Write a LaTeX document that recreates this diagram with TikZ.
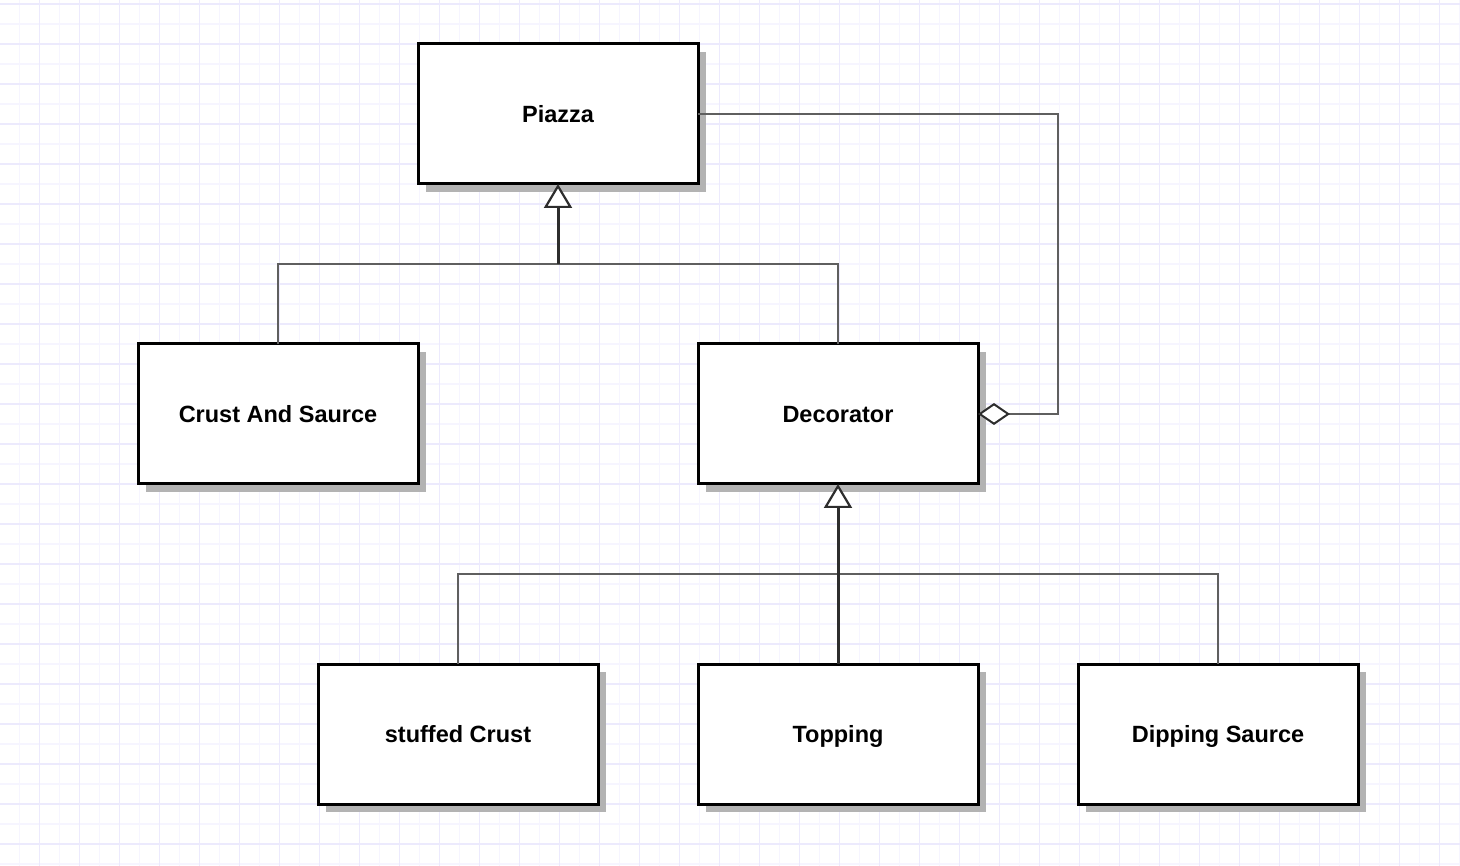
\documentclass[tikz,border=0pt]{standalone}
\usepackage{fontspec}
\setmainfont{Liberation Sans}
\usetikzlibrary{arrows.meta,shadows}
\definecolor{gridmin}{RGB}{246,245,255}
\definecolor{gridmaj}{RGB}{236,234,253}
\definecolor{shadowc}{RGB}{179,179,179}
\definecolor{linec}{RGB}{95,95,95}
\definecolor{stemc}{RGB}{45,45,45}
\begin{document}
\begin{tikzpicture}[x=1pt,y=-1pt,
  cls/.style={draw=black, line width=3pt, fill=white, minimum width=280pt,
    minimum height=140pt, inner sep=0pt, outer sep=0pt,
    text height=17pt, text depth=0pt,
    font=\fontsize{23.5}{28}\selectfont\bfseries,
    drop shadow={shadow xshift=8pt, shadow yshift=-8pt, fill=shadowc, opacity=1}},
  conn/.style={draw=linec, line width=2.3pt},
  stem/.style={draw=stemc, line width=3pt,
    -{Triangle[fill=white, length=24pt, width=28pt, line width=2.2pt]}},
  agg/.style={draw=linec, line width=2.3pt,
    {Diamond[fill=white, length=32pt, width=22pt, line width=2pt, color=stemc]}-}]
\useasboundingbox (0,0) rectangle (1460,866);
\fill[white] (0,0) rectangle (1460,866);
% grid
\foreach \x in {19.5,59.5,...,1459.5} \draw[gridmin, line width=1.2pt] (\x,0) -- (\x,866);
\foreach \y in {24,64,...,864} \draw[gridmin, line width=1.2pt] (0,\y) -- (1460,\y);
\foreach \x in {39.5,79.5,...,1459.5} \draw[gridmaj, line width=1.8pt] (\x,0) -- (\x,866);
\foreach \y in {4,44,...,864} \draw[gridmaj, line width=1.8pt] (0,\y) -- (1460,\y);
% classes
\node[cls] (pizza) at (558,114) {Piazza};
\node[cls] (crust) at (278,414) {Crust And Saurce};
\node[cls] (dec) at (838,414) {Decorator};
\node[cls] (stuffed) at (458,734) {stuffed Crust};
\node[cls] (topping) at (838,734) {Topping};
\node[cls] (dip) at (1218,734) {Dipping Saurce};
% junctions
\coordinate (j1) at (558,264);
\coordinate (j2) at (838,574);
\coordinate (a1) at (1058,114);
% inheritance
\draw[conn] (crust.north) |- (j1) -| (dec.north);
\draw[stem] (j1) -- (pizza.south);
\draw[conn] (stuffed.north) |- (j2) -| (dip.north);
\draw[stem] (topping.north) -- (dec.south);
% aggregation
\draw[agg] (dec.east) -| (a1) -- (pizza.east);
\end{tikzpicture}
\end{document}
